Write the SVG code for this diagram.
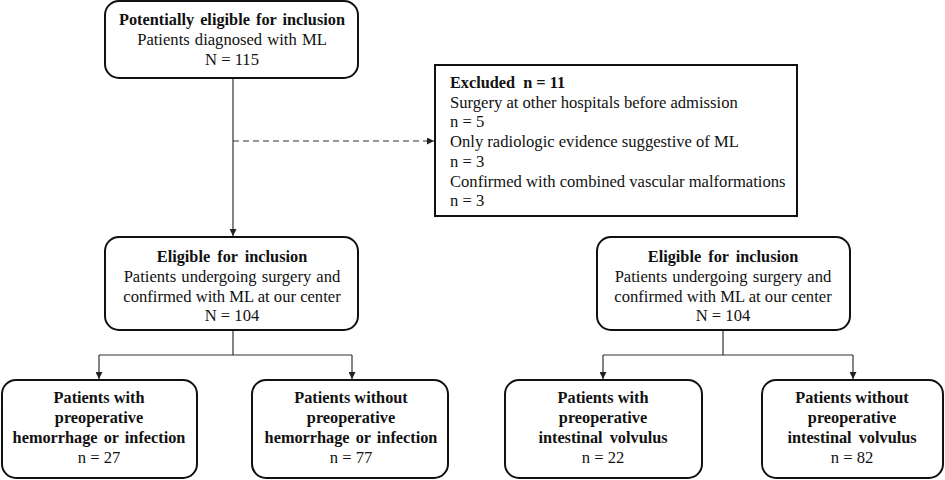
<svg xmlns="http://www.w3.org/2000/svg" width="945" height="480" viewBox="0 0 945 480">
<defs>
<marker id="arr" viewBox="0 0 10 10" refX="10" refY="5" markerWidth="7" markerHeight="7" orient="auto" markerUnits="userSpaceOnUse">
<path d="M0,0 L10,5 L0,10 z" fill="#222"/>
</marker>
<style>
.box{fill:#fff;stroke:#111;stroke-width:2}
.t{font-family:"Liberation Serif","Times New Roman",serif;font-size:16.6px;fill:#111;text-anchor:middle}
.b{font-weight:bold;font-size:16.3px}
.l{text-anchor:start}
.c{fill:none;stroke:#333;stroke-width:1.2}
.d{fill:none;stroke:#333;stroke-width:1.2;stroke-dasharray:6,4}
</style>
</defs>
<rect width="945" height="480" fill="#fff"/>
<g id="connectors">
<line class="c" x1="233" y1="78" x2="233" y2="236" marker-end="url(#arr)"/>
<line class="d" x1="233" y1="141" x2="434" y2="141" marker-end="url(#arr)"/>
<polyline class="c" points="233,330 233,355"/>
<line class="c" x1="99" y1="355" x2="352" y2="355"/>
<line class="c" x1="99" y1="355" x2="99" y2="379" marker-end="url(#arr)"/>
<line class="c" x1="352" y1="355" x2="352" y2="379" marker-end="url(#arr)"/>
<polyline class="c" points="723,330 723,355"/>
<line class="c" x1="603" y1="355" x2="853" y2="355"/>
<line class="c" x1="603" y1="355" x2="603" y2="379" marker-end="url(#arr)"/>
<line class="c" x1="853" y1="355" x2="853" y2="379" marker-end="url(#arr)"/>
</g>
<g id="n-potential">
<rect class="box" x="105" y="1" width="253" height="77" rx="14"/>
<text class="t b" x="232" y="25" word-spacing="2">Potentially eligible for inclusion</text>
<text class="t" x="232" y="45" word-spacing="1">Patients diagnosed with ML</text>
<text class="t" x="232" y="65">N = 115</text>
</g>
<g id="n-excluded">
<rect class="box" x="435" y="65" width="362" height="151"/>
<text class="t l b" x="450" y="88">Excluded <tspan dx="4">n = 11</tspan></text>
<text class="t l" x="450" y="108">Surgery at other hospitals before admission</text>
<text class="t l" x="450" y="127">n = 5</text>
<text class="t l" x="450" y="147">Only radiologic evidence suggestive of ML</text>
<text class="t l" x="450" y="167">n = 3</text>
<text class="t l" x="450" y="187">Confirmed with combined vascular malformations</text>
<text class="t l" x="450" y="206">n = 3</text>
</g>
<g id="n-eligible-left">
<rect class="box" x="105" y="237" width="253" height="93" rx="14"/>
<text class="t b" x="232" y="262" word-spacing="3">Eligible for inclusion</text>
<text class="t" x="232" y="282" word-spacing="1">Patients undergoing surgery and</text>
<text class="t" x="232" y="302">confirmed with ML at our center</text>
<text class="t" x="232" y="321">N = 104</text>
</g>
<g id="n-eligible-right">
<rect class="box" x="597" y="237" width="253" height="93" rx="14"/>
<text class="t b" x="723" y="262" word-spacing="3">Eligible for inclusion</text>
<text class="t" x="723" y="282" word-spacing="1">Patients undergoing surgery and</text>
<text class="t" x="723" y="302">confirmed with ML at our center</text>
<text class="t" x="723" y="321">N = 104</text>
</g>
<g id="n-with-hem">
<rect class="box" x="2" y="380" width="195" height="98" rx="14"/>
<text class="t b" x="99" y="403">Patients with</text>
<text class="t b" x="99" y="423">preoperative</text>
<text class="t b" x="99" y="443" word-spacing="2">hemorrhage or infection</text>
<text class="t" x="99" y="463">n = 27</text>
</g>
<g id="n-without-hem">
<rect class="box" x="252" y="380" width="196" height="98" rx="14"/>
<text class="t b" x="351" y="403">Patients without</text>
<text class="t b" x="351" y="423">preoperative</text>
<text class="t b" x="351" y="443" word-spacing="2">hemorrhage or infection</text>
<text class="t" x="351" y="463">n = 77</text>
</g>
<g id="n-with-vol">
<rect class="box" x="505" y="380" width="197" height="98" rx="14"/>
<text class="t b" x="603" y="403">Patients with</text>
<text class="t b" x="603" y="423">preoperative</text>
<text class="t b" x="603" y="443" word-spacing="3">intestinal volvulus</text>
<text class="t" x="603" y="463">n = 22</text>
</g>
<g id="n-without-vol">
<rect class="box" x="762" y="380" width="181" height="98" rx="14"/>
<text class="t b" x="852" y="403">Patients without</text>
<text class="t b" x="852" y="423">preoperative</text>
<text class="t b" x="852" y="443" word-spacing="3">intestinal volvulus</text>
<text class="t" x="852" y="463">n = 82</text>
</g>
</svg>
